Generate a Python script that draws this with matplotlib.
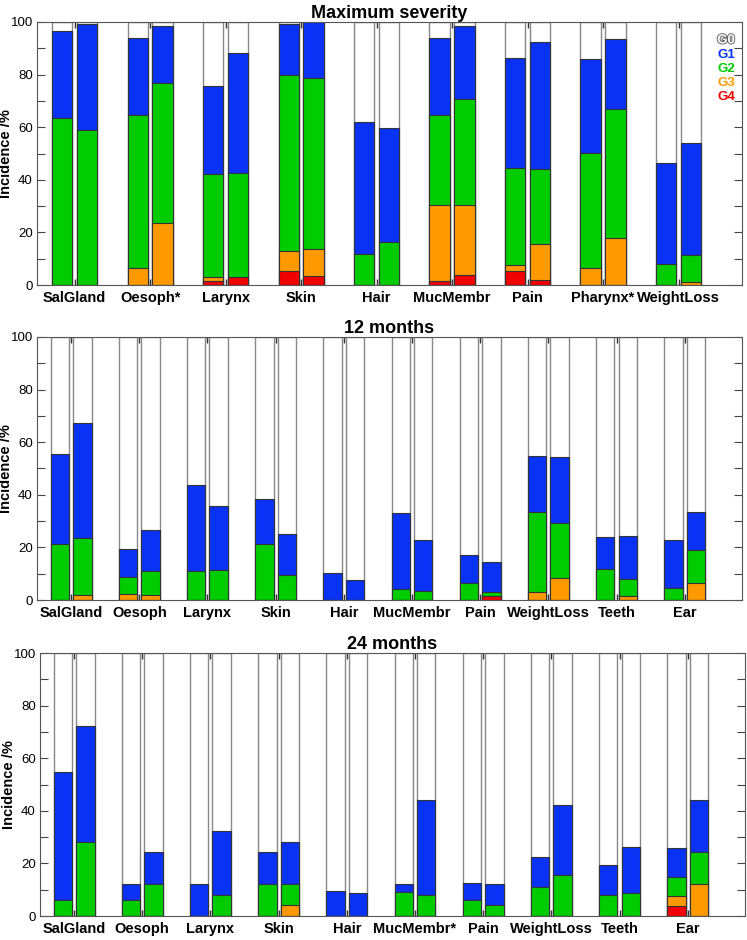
import matplotlib.pyplot as plt
import matplotlib.patheffects as pe
import numpy as np

plt.rcParams['font.family'] = ['Liberation Sans', 'DejaVu Sans']

# incidence (%) of grade >= Gk, one pair per category (first bar, second bar)
max_cats = ['SalGland', 'Oesoph*', 'Larynx', 'Skin', 'Hair', 'MucMembr', 'Pain', 'Pharynx*', 'WeightLoss']
max_ge1 = [(96.7, 99.4), (93.9, 98.6), (75.8, 88.2), (99.1, 100), (62.0, 59.8), (93.9, 98.6), (86.3, 92.5), (86.1, 93.5), (46.3, 54.1)]
max_ge2 = [(63.5, 59.1), (64.5, 76.7), (42.2, 42.7), (79.7, 78.6), (11.9, 16.2), (64.5, 70.8), (44.4, 44.0), (50.1, 66.8), (8.0, 11.3)]
max_ge3 = [(0, 0), (6.5, 23.6), (3.0, 3.2), (12.8, 13.7), (0, 0), (30.3, 30.3), (7.5, 15.7), (6.5, 17.7), (0, 1.1)]
max_ge4 = [(0, 0), (0, 0), (1.4, 3.2), (5.2, 3.3), (0, 0), (1.6, 3.9), (5.3, 2.0), (0, 0), (0, 0)]

m12_cats = ['SalGland', 'Oesoph', 'Larynx', 'Skin', 'Hair', 'MucMembr', 'Pain', 'WeightLoss', 'Teeth', 'Ear']
m12_ge1 = [(55.6, 67.4), (19.5, 26.6), (43.7, 35.7), (38.4, 25.2), (10.3, 7.7), (33.0, 22.9), (17.2, 14.3), (54.9, 54.5), (24.0, 24.2), (22.9, 33.3)]
m12_ge2 = [(21.3, 23.6), (8.7, 11.0), (11.0, 11.4), (21.3, 9.5), (0, 0), (4.3, 3.4), (6.3, 3.0), (33.3, 29.2), (11.9, 8.1), (4.7, 19.1)]
m12_ge3 = [(0, 1.8), (2.4, 1.8), (0, 0), (0, 0), (0, 0), (0, 0), (0, 1.6), (3.0, 8.5), (0, 1.6), (0, 6.3)]
m12_ge4 = [(0, 0), (0, 0), (0, 0), (0, 0), (0, 0), (0, 0), (0, 1.6), (0, 0), (0, 0), (0, 0)]

m24_cats = ['SalGland', 'Oesoph', 'Larynx', 'Skin', 'Hair', 'MucMembr*', 'Pain', 'WeightLoss', 'Teeth', 'Ear']
m24_ge1 = [(54.8, 72.4), (12.3, 24.3), (12.3, 32.2), (24.3, 28.3), (9.6, 8.7), (12.3, 44.2), (12.7, 12.3), (22.3, 42.2), (19.3, 26.4), (26.0, 44.2)]
m24_ge2 = [(6.0, 28.0), (6.0, 12.2), (0, 8.1), (12.2, 12.2), (0, 0), (9.3, 8.1), (6.2, 4.1), (11.0, 15.7), (7.9, 8.6), (15.0, 24.2)]
m24_ge3 = [(0, 0), (0, 0), (0, 0), (0, 4.1), (0, 0), (0, 0), (0, 0), (0, 0), (0, 0), (7.5, 12.3)]
m24_ge4 = [(0, 0), (0, 0), (0, 0), (0, 0), (0, 0), (0, 0), (0, 0), (0, 0), (0, 0), (3.8, 0)]

grades = ['G0', 'G1', 'G2', 'G3', 'G4']
colors = ['white', '#0a32f5', '#00cc00', '#ff9900', '#f00000']

fig = plt.figure(figsize=(7.47, 9.40), dpi=100)

panels = [
    ('Maximum severity', max_cats, [max_ge1, max_ge2, max_ge3, max_ge4], [0.0495, 0.6968]),
    ('12 months', m12_cats, [m12_ge1, m12_ge2, m12_ge3, m12_ge4], [0.0495, 0.3617]),
    ('24 months', m24_cats, [m24_ge1, m24_ge2, m24_ge3, m24_ge4], [0.0535, 0.0255]),
]

for k, (title, cats, levels, pos) in enumerate(panels):
    ax = fig.add_axes([pos[0], pos[1], 0.9438, 0.2798])
    n = len(cats)
    x = np.arange(1, n + 1)
    for j, off in enumerate([-0.165, 0.165]):
        xs = x + off
        ax.bar(xs, 100, width=0.27, color='white', edgecolor='#888888', linewidth=1.0, zorder=1)
        for g, lev in enumerate(levels):
            vals = [p[j] for p in lev]
            ax.bar(xs, vals, width=0.27, color=colors[g + 1], edgecolor='#333333',
                   linewidth=0.8, zorder=2 + g)

    ax.set_xlim(0.5, n + 0.84)
    ax.set_ylim(0, 100)
    ax.set_xticks(x)
    ax.set_xticklabels(cats, fontweight='bold', fontsize=10.5)
    ax.tick_params(axis='x', direction='in', length=4, width=1.0, color='#333333',
                   top=True, pad=4)
    ax.set_yticks(range(0, 101, 20))
    ax.set_yticks(range(0, 101, 10), minor=True)
    ax.tick_params(axis='y', which='both', direction='in', length=5.5, width=0.8,
                   color='#444444', right=True, labelsize=9.5, pad=3)
    for s in ax.spines.values():
        s.set_color('#555555')
        s.set_zorder(10)
    ax.set_title(title, fontweight='bold', fontsize=13, pad=3)
    ax.set_ylabel('Incidence /%', fontweight='bold', fontsize=10.5)
    ax.yaxis.set_label_coords(-0.034, 0.5)

    if k == 0:
        for g, (lab, c) in enumerate(zip(grades, colors)):
            t = ax.text(0.99, 0.93 - g * 0.054, lab, transform=ax.transAxes, ha='right',
                        va='center', fontweight='bold', fontsize=9.5, color=c, zorder=20)
            if g == 0:
                t.set_path_effects([pe.withStroke(linewidth=1.4, foreground='#666666')])

fig.savefig('out.png', dpi=100)
